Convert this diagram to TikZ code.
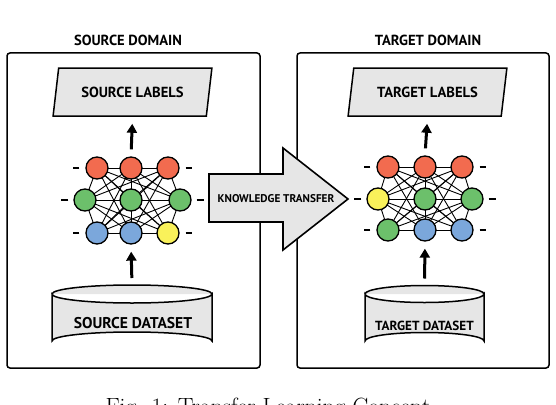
\documentclass[tikz,border=0pt]{standalone}
\usepackage{fontspec}
\newfontfamily\labfont{PT Sans}
\usetikzlibrary{arrows.meta,shapes.geometric,backgrounds}
\definecolor{nred}{HTML}{F26B4F}
\definecolor{ngreen}{HTML}{6CC06B}
\definecolor{nblue}{HTML}{7BA7DB}
\definecolor{nyellow}{HTML}{F9F15A}
\definecolor{boxgray}{HTML}{E6E6E6}
\begin{document}
\begin{tikzpicture}[x=1pt,y=-1pt,
  panel/.style={draw=black,line width=1.5pt,rounded corners=3pt},
  heading/.style={font=\labfont\bfseries\fontsize{14.6}{16}\selectfont},
  labelbox/.style={trapezium,trapezium left angle=70,trapezium right angle=110,trapezium stretches=true,
     draw=black,line width=1.5pt,fill=boxgray,minimum width=159pt,minimum height=48pt,inner sep=0pt,
     font=\labfont\bfseries\fontsize{14.6}{16}\selectfont},
  neuron/.style={circle,draw=black,line width=1.3pt,minimum size=22pt,inner sep=0pt},
  wire/.style={draw=black,line width=0.9pt},
  tick/.style={draw=black,line width=2pt},
  uparr/.style={draw=black,line width=3pt,-{Triangle[width=10pt,length=9pt]},shorten <=7pt,shorten >=7pt},
  cyl/.style={draw=black,line width=1.5pt,fill=boxgray},
]
\useasboundingbox (0,0) rectangle (556,404);

% panels
\draw[panel] (7,53) rectangle (260,368);
\draw[panel] (297,53) rectangle (549,368);
\node[heading] (h1) at (128,40) {SOURCE DOMAIN};
\node[heading] (h2) at (428,40) {TARGET DOMAIN};

% label parallelograms
\node[labelbox] (lab1) at (132.5,92) {SOURCE LABELS};
\node[labelbox] (lab2) at (427.5,92) {TARGET LABELS};

% datasets (cylinders)
\draw[cyl] (52,294) -- (52,341) arc[start angle=180,end angle=360,x radius=80,y radius=9] -- (212,294)
  arc[start angle=0,end angle=180,x radius=80,y radius=9] -- cycle;
\draw[cyl] (212,294) arc[start angle=0,end angle=-180,x radius=80,y radius=9];
\coordinate (ds1top) at (132,285);
\node[font=\labfont\bfseries\fontsize{15.6}{17}\selectfont] (ds1) at (133,323) {SOURCE DATASET};

\draw[cyl] (365,294) -- (365,341) arc[start angle=180,end angle=360,x radius=59.5,y radius=8.5] -- (484,294)
  arc[start angle=0,end angle=180,x radius=59.5,y radius=8.5] -- cycle;
\draw[cyl] (484,294) arc[start angle=0,end angle=-180,x radius=59.5,y radius=8.5];
\coordinate (ds2top) at (424.5,285.5);
\node[font=\labfont\bfseries\fontsize{13.2}{15}\selectfont] (ds2) at (424.5,326) {TARGET DATASET};

% knowledge transfer arrow
\draw[draw=black,line width=1.6pt,fill=boxgray,line join=miter]
  (209,174) -- (283,174) -- (283,148) -- (348,199) -- (283,250) -- (283,222) -- (209,222) -- cycle;
\node[font=\labfont\bfseries\fontsize{11.2}{13}\selectfont] (kt) at (276,199) {KNOWLEDGE TRANSFER};

% left network
\node[neuron,fill=nred]    (a1) at (97,168) {};
\node[neuron,fill=nred]    (a2) at (131,168) {};
\node[neuron,fill=nred]    (a3) at (168,168) {};
\node[neuron,fill=ngreen]  (b1) at (85,200) {};
\node[neuron,fill=ngreen]  (b2) at (131,200) {};
\node[neuron,fill=ngreen]  (b3) at (180,200) {};
\node[neuron,fill=nblue]   (c1) at (97,233) {};
\node[neuron,fill=nblue]   (c2) at (131,233) {};
\node[neuron,fill=nyellow] (c3) at (168,233) {};

% right network
\node[neuron,fill=nred]    (d1) at (388,167) {};
\node[neuron,fill=nred]    (d2) at (425,167) {};
\node[neuron,fill=nred]    (d3) at (462,167) {};
\node[neuron,fill=nyellow] (e1) at (378,199) {};
\node[neuron,fill=ngreen]  (e2) at (425,199) {};
\node[neuron,fill=ngreen]  (e3) at (472,199) {};
\node[neuron,fill=ngreen]  (f1) at (388,230) {};
\node[neuron,fill=nblue]   (f2) at (425,230) {};
\node[neuron,fill=nblue]   (f3) at (462,230) {};

\begin{scope}[on background layer]
  \foreach \t/\m/\b in {a/b/c,d/e/f}{
    \foreach \i in {1,2,3}{
      \foreach \j in {1,2,3}{
        \draw[wire] (\t\i.center) -- (\m\j.center);
        \draw[wire] (\m\i.center) -- (\b\j.center);
      }
    }
    \draw[wire] (\t1.center) -- (\t3.center);
    \draw[wire] (\m1.center) -- (\m3.center);
    \draw[wire] (\b1.center) -- (\b3.center);
    \draw[wire] (\t1.center) -- (\b2.center);
    \draw[wire] (\t1.center) -- (\b3.center);
    \draw[wire] (\t2.center) -- (\b1.center);
    \draw[wire] (\t2.center) -- (\b3.center);
    \draw[wire] (\t3.center) -- (\b1.center);
    \draw[wire] (\t3.center) -- (\b2.center);
  }
\end{scope}

% side ticks
\foreach \n in {a1,c1,d1,f1}{\draw[tick] ([xshift=-6pt]\n.west) -- ++(-6pt,0);}
\foreach \n in {a3,c3,d3,f3}{\draw[tick] ([xshift=6pt]\n.east) -- ++(6pt,0);}
\foreach \n in {b1,e1}{\draw[tick] ([xshift=-5pt]\n.west) -- ++(-7pt,0);}
\foreach \n in {b3,e3}{\draw[tick] ([xshift=5pt]\n.east) -- ++(7pt,0);}

% vertical arrows
\draw[uparr] (a2.north) -- (lab1.south);
\draw[uparr] (d2.north) -- (lab2.south);
\draw[uparr] (ds1top) -- (c2.south);
\draw[uparr] (ds2top) -- (f2.south);

% caption (cut by the page edge, as in the reference)
\node[anchor=base west,font=\fontsize{23.5}{27}\selectfont] (cap) at (102,414) {Fig. 1: Transfer Learning Concept};
\end{tikzpicture}
\end{document}
